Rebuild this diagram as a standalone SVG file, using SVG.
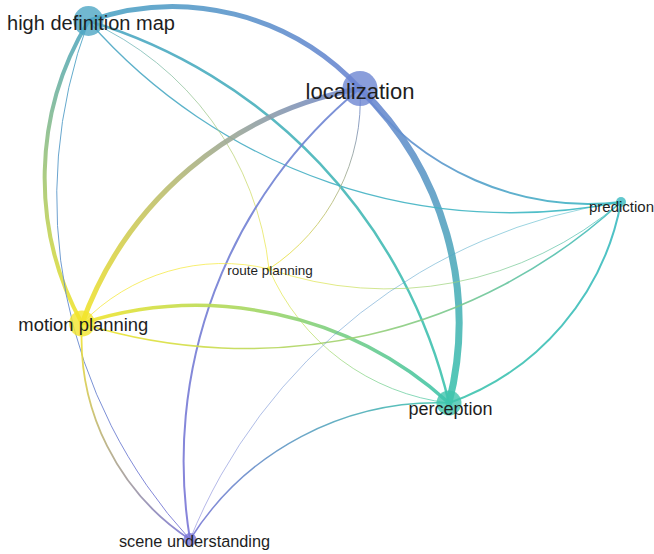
<svg xmlns="http://www.w3.org/2000/svg" width="654" height="554" viewBox="0 0 654 554">
<style>
.e{fill:none;stroke-linecap:round;stroke-opacity:0.9}
.n circle{fill-opacity:0.8}
.t{font-family:"Liberation Sans",Arial,sans-serif;fill:#1e1e1e;text-anchor:middle}
</style>
<defs>
<linearGradient id="g1" gradientUnits="userSpaceOnUse" x1="88.5" y1="21" x2="360" y2="88.5"><stop offset="0" stop-color="#4da6c4"/><stop offset="1" stop-color="#6d86d2"/></linearGradient>
<linearGradient id="g2" gradientUnits="userSpaceOnUse" x1="360" y1="88.5" x2="449" y2="403"><stop offset="0" stop-color="#6d86d2"/><stop offset="1" stop-color="#3ec4ad"/></linearGradient>
<linearGradient id="g3" gradientUnits="userSpaceOnUse" x1="88.5" y1="21" x2="449" y2="403"><stop offset="0" stop-color="#4da6c4"/><stop offset="1" stop-color="#3ec4ad"/></linearGradient>
<linearGradient id="g4" gradientUnits="userSpaceOnUse" x1="88.5" y1="21" x2="621" y2="202"><stop offset="0" stop-color="#4da6c4"/><stop offset="1" stop-color="#3bbac2"/></linearGradient>
<linearGradient id="g5" gradientUnits="userSpaceOnUse" x1="360" y1="88.5" x2="621" y2="202"><stop offset="0" stop-color="#6d86d2"/><stop offset="1" stop-color="#3bbac2"/></linearGradient>
<linearGradient id="g6" gradientUnits="userSpaceOnUse" x1="88.5" y1="21" x2="269" y2="269"><stop offset="0" stop-color="#4da6c4"/><stop offset="1" stop-color="#f5ea40"/></linearGradient>
<linearGradient id="g7" gradientUnits="userSpaceOnUse" x1="269" y1="269" x2="449" y2="403"><stop offset="0" stop-color="#f5ea40"/><stop offset="1" stop-color="#3ec4ad"/></linearGradient>
<linearGradient id="g8" gradientUnits="userSpaceOnUse" x1="360" y1="88.5" x2="269" y2="269"><stop offset="0" stop-color="#6d86d2"/><stop offset="1" stop-color="#f5ea40"/></linearGradient>
<linearGradient id="g9" gradientUnits="userSpaceOnUse" x1="360" y1="88.5" x2="82" y2="323.5"><stop offset="0" stop-color="#6d86d2"/><stop offset="1" stop-color="#f3e52b"/></linearGradient>
<linearGradient id="g10" gradientUnits="userSpaceOnUse" x1="360" y1="88.5" x2="190" y2="539.5"><stop offset="0" stop-color="#6d86d2"/><stop offset="1" stop-color="#7a76d6"/></linearGradient>
<linearGradient id="g11" gradientUnits="userSpaceOnUse" x1="88.5" y1="21" x2="82" y2="323.5"><stop offset="0" stop-color="#4da6c4"/><stop offset="1" stop-color="#f3e52b"/></linearGradient>
<linearGradient id="g12" gradientUnits="userSpaceOnUse" x1="88.5" y1="21" x2="190" y2="539.5"><stop offset="0" stop-color="#4da6c4"/><stop offset="1" stop-color="#7a76d6"/></linearGradient>
<linearGradient id="g13" gradientUnits="userSpaceOnUse" x1="82" y1="323.5" x2="190" y2="539.5"><stop offset="0" stop-color="#f3e52b"/><stop offset="1" stop-color="#7a76d6"/></linearGradient>
<linearGradient id="g14" gradientUnits="userSpaceOnUse" x1="82" y1="323.5" x2="449" y2="403"><stop offset="0" stop-color="#f3e52b"/><stop offset="1" stop-color="#3ec4ad"/></linearGradient>
<linearGradient id="g15" gradientUnits="userSpaceOnUse" x1="82" y1="323.5" x2="621" y2="202"><stop offset="0" stop-color="#f3e52b"/><stop offset="1" stop-color="#3bbac2"/></linearGradient>
<linearGradient id="g16" gradientUnits="userSpaceOnUse" x1="82" y1="323.5" x2="269" y2="269"><stop offset="0" stop-color="#f3e52b"/><stop offset="1" stop-color="#f5ea40"/></linearGradient>
<linearGradient id="g17" gradientUnits="userSpaceOnUse" x1="269" y1="269" x2="621" y2="202"><stop offset="0" stop-color="#f5ea40"/><stop offset="1" stop-color="#3bbac2"/></linearGradient>
<linearGradient id="g18" gradientUnits="userSpaceOnUse" x1="449" y1="403" x2="621" y2="202"><stop offset="0" stop-color="#3ec4ad"/><stop offset="1" stop-color="#3bbac2"/></linearGradient>
<linearGradient id="g19" gradientUnits="userSpaceOnUse" x1="190" y1="539.5" x2="449" y2="403"><stop offset="0" stop-color="#7a76d6"/><stop offset="1" stop-color="#3ec4ad"/></linearGradient>
<linearGradient id="g20" gradientUnits="userSpaceOnUse" x1="190" y1="539.5" x2="621" y2="202"><stop offset="0" stop-color="#7a76d6"/><stop offset="1" stop-color="#3bbac2"/></linearGradient>
</defs>
<g id="connectors">
<path class="e" stroke="url(#g1)" stroke-width="5" d="M88.5,21 A255,255 0 0,1 360,88.5"/>
<path class="e" stroke="url(#g2)" stroke-width="7" d="M360,88.5 A326.8,326.8 0 0,1 449,403"/>
<path class="e" stroke="url(#g3)" stroke-width="2.5" d="M88.5,21 A525.2,525.2 0 0,1 449,403"/>
<path class="e" stroke="url(#g4)" stroke-width="1.3" d="M621,202 A562.4,562.4 0 0,1 88.5,21"/>
<path class="e" stroke="url(#g5)" stroke-width="2" d="M621,202 A284.6,284.6 0 0,1 360,88.5"/>
<path class="e" stroke="url(#g6)" stroke-width="0.8" stroke-opacity="0.6" d="M88.5,21 A306.7,306.7 0 0,1 269,269"/>
<path class="e" stroke="url(#g7)" stroke-width="0.8" stroke-opacity="0.6" d="M449,403 A224.4,224.4 0 0,1 269,269"/>
<path class="e" stroke="url(#g8)" stroke-width="1" d="M360,88.5 A202.1,202.1 0 0,1 269,269"/>
<path class="e" stroke="url(#g9)" stroke-width="5" d="M82,323.5 A364,364 0 0,1 360,88.5"/>
<path class="e" stroke="url(#g10)" stroke-width="2" d="M190,539.5 A482,482 0 0,1 360,88.5"/>
<path class="e" stroke="url(#g11)" stroke-width="4" d="M82,323.5 A302.6,302.6 0 0,1 88.5,21"/>
<path class="e" stroke="url(#g12)" stroke-width="1" d="M190,539.5 A505,505 0 0,1 88.5,21"/>
<path class="e" stroke="url(#g13)" stroke-width="1.8" d="M190,539.5 A241.5,241.5 0 0,1 82,323.5"/>
<path class="e" stroke="url(#g14)" stroke-width="3.5" d="M82,323.5 A375.5,375.5 0 0,1 449,403"/>
<path class="e" stroke="url(#g15)" stroke-width="1.6" d="M621,202 A552.5,552.5 0 0,1 82,323.5"/>
<path class="e" stroke="url(#g16)" stroke-width="0.8" stroke-opacity="0.6" d="M82,323.5 A194.8,194.8 0 0,1 269,269"/>
<path class="e" stroke="url(#g17)" stroke-width="0.8" stroke-opacity="0.5" d="M621,202 A358.3,358.3 0 0,1 269,269"/>
<path class="e" stroke="url(#g18)" stroke-width="2" d="M621,202 A264.5,264.5 0 0,1 449,403"/>
<path class="e" stroke="url(#g19)" stroke-width="1.5" d="M190,539.5 A292.8,292.8 0 0,1 449,403"/>
<path class="e" stroke="url(#g20)" stroke-width="0.6" stroke-opacity="0.25" d="M190,539.5 A547.4,547.4 0 0,1 621,202"/>
</g>
<g id="node-hdm" class="n"><circle cx="88.5" cy="21" r="15" fill="#4da6c4"/><text class="t" x="91" y="29.5" font-size="20">high definition map</text></g>
<g id="node-localization" class="n"><circle cx="360" cy="88.5" r="17.5" fill="#6d86d2"/><text class="t" x="360" y="99" font-size="22">localization</text></g>
<g id="node-prediction" class="n"><circle cx="621" cy="202" r="5" fill="#3bbac2"/><text class="t" x="621.5" y="211.5" font-size="15">prediction</text></g>
<g id="node-route-planning" class="n"><circle cx="269" cy="269" r="2.5" fill="#f5ea40"/><text class="t" x="270" y="275" font-size="13.5">route planning</text></g>
<g id="node-motion-planning" class="n"><circle cx="82" cy="323.5" r="13" fill="#f3e52b"/><text class="t" x="83.3" y="330.7" font-size="18.4">motion planning</text></g>
<g id="node-perception" class="n"><circle cx="449" cy="403" r="12.5" fill="#3ec4ad"/><text class="t" x="450.5" y="415" font-size="18">perception</text></g>
<g id="node-scene-understanding" class="n"><circle cx="190" cy="539.5" r="6.5" fill="#7a76d6"/><text class="t" x="194.5" y="546.7" font-size="16.3">scene understanding</text></g>
</svg>
